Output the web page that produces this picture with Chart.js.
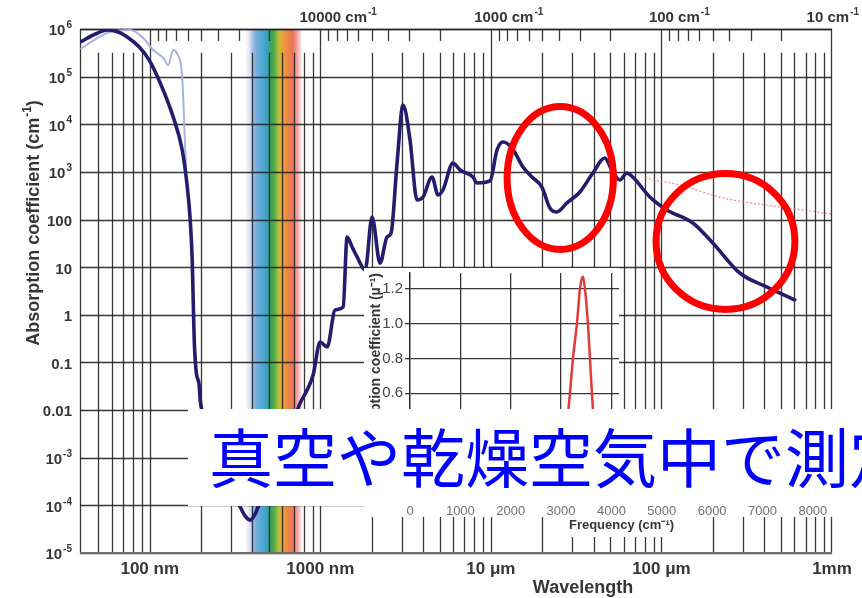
<!DOCTYPE html>
<html>
<head>
<meta charset="utf-8">
<script src="https://cdn.jsdelivr.net/npm/chart.js@4/dist/chart.umd.min.js"></script>
<style>
  html, body { margin: 0; padding: 0; background: #fff; }
  #wrap { position: relative; width: 862px; height: 598px; overflow: hidden; background: #fff; }
  #main { position: absolute; left: 0; top: 0; }
  #insetBox {
    position: absolute; left: 364px; top: 262px; width: 498px; height: 280px; background: #fff;
    clip-path: polygon(0px 6px, 255px 6px, 255px 147px, 498px 147px, 498px 255px, 326px 255px,
                       326px 275px, 191px 275px, 191px 255px, 0px 255px);
  }
  #note {
    position: absolute; left: 188px; top: 409px; width: 700px; height: 97px; background: #fff;
    overflow: hidden; white-space: nowrap;
  }
  #note span {
    position: absolute; left: 21px; top: -3px; line-height: 97px;
    font-family: "Noto Sans CJK JP", sans-serif; font-size: 64px; color: #0000ff;
  }
</style>
</head>
<body>
<div id="wrap">
  <canvas id="main" width="862" height="598"></canvas>
  <div id="insetBox"><canvas id="inset" width="498" height="280"></canvas></div>
  <div id="note"><span>真空や乾燥空気中で測定</span></div>
</div>
<script>
// Water absorption spectrum: wavelength (nm) vs absorption coefficient (cm^-1)
const darkWl = [39.2, 48, 56.4, 65.3, 73.8, 86.8, 99.3, 115.2, 137.3, 155, 166, 172.7, 177.4, 179.8, 182.3,
  187.3, 194.8, 197.6, 211, 242, 288, 339, 362, 388, 415, 432, 494, 582, 684, 762, 837, 908, 997, 1097,
  1222, 1361, 1436, 1536, 1643, 1832, 2011, 2240, 2461, 2600, 2818, 3055, 3357, 3690, 4000, 4518, 4898,
  5238, 5996, 6592, 7855, 8285, 9880, 10860, 11780, 13300, 15420, 17410, 19910, 22180, 24380, 27920,
  33270, 39630, 46580, 51200, 57000, 62700, 67900, 85500, 107600, 152800, 200000, 287800, 414000, 604000];
const darkAbs = [5.33e5, 7.85e5, 9.5e5, 8.65e5, 6.8e5, 4.19e5, 2.23e5, 7.35e4, 1.42e4, 2.88e3, 482, 98, 14.2,
  2.05, 0.296, 0.063, 0.0337, 0.0163, 6.2e-3, 1.14e-3, 2.68e-4, 9.3e-5, 6.0e-5, 4.9e-5, 6.6e-5, 9.3e-5,
  2.1e-4, 1.14e-3, 4.9e-3, 0.0141, 0.0264, 0.0546, 0.269, 0.211, 1.26, 1.46, 43, 26.5, 16.4, 8.7, 113,
  12.2, 43, 52, 1540, 2.54e4, 4680, 258, 298, 782, 328, 417, 1540, 1096, 782, 585, 645, 2884, 4250, 3177,
  1268, 782, 482, 175, 144, 223, 379, 948, 1959, 1096, 676, 948, 782, 298, 159, 84.7, 32.2, 7.55, 3.84, 2.05];

// Second (ice / vapour) curve in the far UV
const lightWl = [39.2, 49.3, 58.7, 76.9, 91.6, 104.8, 120, 128.3, 137.3, 144.9, 155, 161.5, 166];
const lightAbs = [3.8e5, 6.47e5, 8.65e5, 9.5e5, 6.47e5, 3.62e5, 2.46e5, 1.75e5, 3.62e5, 2.99e5, 9.8e4, 2884, 417];

// Dotted far-infrared trend
const pinkWl = [80000, 128000, 229000, 494000, 998000];
const pinkAbs = [745, 531, 284, 184, 131];

// Axis ticks and labels
const yTickVals = [1e6, 1e5, 1e4, 1e3, 100, 10, 1, 0.1, 0.01, 1e-3, 1e-4, 1e-5];
const yTickText = ['10{6}', '10{5}', '10{4}', '10{3}', '100', '10', '1', '0.1', '0.01', '10{-3}', '10{-4}', '10{-5}'];
const xTickVals = [100, 1000, 1e4, 1e5, 1e6];
const xTickText = ['100 nm', '1000 nm', '10 μm', '100 μm', '1mm'];
const topTickVals = [10000, 1000, 100, 10];          // wavenumber, cm^-1
const topTickText = ['10000 cm{-1}', '1000 cm{-1}', '100 cm{-1}', '10 cm{-1}'];

// Visible band colour stops (nm)
const bandWl = [362, 385, 400, 420, 460, 485, 500, 520, 545, 565, 585, 610, 650, 690, 720, 760, 790];
const bandColor = ['rgba(225,225,242,0)', '#dcdff0', '#9fbbe4', '#6aa7dc', '#3f9fd2', '#2a9cb8', '#1f9a7c',
  '#2f9c48', '#5aa836', '#a6bd2e', '#dca826', '#e8922e', '#e97a36', '#e9684a', '#ef8a88', '#f6c6c8',
  'rgba(255,235,235,0)'];

// Highlight rings: wavelength range (nm) and absorption range (cm^-1)
const ringWlMin = [12450, 93000];
const ringWlMax = [52300, 606000];
const ringAbsMin = [23.6, 1.30];
const ringAbsMax = [2.35e4, 923];

// Inset: frequency (cm^-1) vs absorption coefficient (µm^-1)
const insetFreq = [0, 300, 500, 700, 900, 1200, 1500, 1640, 1800, 2100, 2500, 2800, 3000, 3100, 3176, 3236,
  3315, 3375, 3434, 3474, 3533, 3573, 3613, 3660, 3750, 3900, 4200, 4800, 5200, 5600, 6200, 6900, 7500, 8000];
const insetAbs = [0.06, 0.12, 0.2, 0.28, 0.3, 0.22, 0.15, 0.22, 0.12, 0.06, 0.05, 0.08, 0.2, 0.38, 0.6, 0.8,
  1.0, 1.2, 1.27, 1.2, 1.0, 0.8, 0.6, 0.4, 0.2, 0.08, 0.02, 0.01, 0.015, 0.01, 0.005, 0.008, 0.004, 0.003];
const insetXTicks = [0, 1000, 2000, 3000, 4000, 5000, 6000, 7000, 8000];
const insetYTicks = [0, 0.2, 0.4, 0.6, 0.8, 1.0, 1.2];

const FONT = '"Liberation Sans", Arial, sans-serif';
const TEXT = '#363636';
const GRID = 'rgba(38,38,38,0.92)';

function pts(xs, ys) { return xs.map((x, i) => ({ x: x, y: ys[i] })); }

// text with {superscript} parts
function segs(str) {
  const out = []; const re = /\{([^}]*)\}|([^{]+)/g; let m;
  while ((m = re.exec(str))) out.push(m[1] !== undefined ? { t: m[1], sup: true } : { t: m[2], sup: false });
  return out;
}
function measureRich(ctx, str, size) {
  const bf = `bold ${size}px ${FONT}`, sf = `bold ${Math.round(size * 0.68)}px ${FONT}`;
  const s = segs(str); let w = 0;
  s.forEach(g => { ctx.font = g.sup ? sf : bf; g.w = ctx.measureText(g.t).width + (g.sup ? 1 : 0); w += g.w; });
  return { s, w, bf, sf };
}
function drawRich(ctx, str, x, y, align, size) {
  const m = measureRich(ctx, str, size);
  let cx = align === 'right' ? x - m.w : align === 'center' ? x - m.w / 2 : x;
  const base = y + size * 0.358;
  ctx.textAlign = 'left'; ctx.textBaseline = 'alphabetic'; ctx.fillStyle = TEXT;
  m.s.forEach(g => {
    ctx.font = g.sup ? m.sf : m.bf;
    ctx.fillText(g.t, cx + (g.sup ? 1 : 0), g.sup ? base - size * 0.48 : base);
    cx += g.w;
  });
}

const framePlugin = {
  id: 'frame',
  beforeDraw(chart) {
    const { ctx } = chart;
    ctx.save(); ctx.fillStyle = '#fff'; ctx.fillRect(0, 0, chart.width, chart.height); ctx.restore();
  },
  beforeDatasetsDraw(chart) {
    const { ctx, chartArea: a, scales: { x, y } } = chart;
    ctx.save();
    // visible band
    const x0 = x.getPixelForValue(bandWl[0]), x1 = x.getPixelForValue(bandWl[bandWl.length - 1]);
    const g = ctx.createLinearGradient(x0, 0, x1, 0);
    bandWl.forEach((w, i) => g.addColorStop((x.getPixelForValue(w) - x0) / (x1 - x0), bandColor[i]));
    ctx.globalAlpha = 0.92; ctx.fillStyle = g; ctx.fillRect(x0, a.top, x1 - x0, a.bottom - a.top);
    ctx.globalAlpha = 1;

    ctx.strokeStyle = GRID; ctx.lineWidth = 1.3;
    const line = (xa, ya, xb, yb) => { ctx.beginPath(); ctx.moveTo(xa, ya); ctx.lineTo(xb, yb); ctx.stroke(); };
    // horizontal decades
    yTickVals.forEach(v => { const py = Math.round(y.getPixelForValue(v)) + 0.5; line(a.left, py, a.right, py); });
    // vertical wavelength lines
    const minorTop = y.getPixelForValue(Math.pow(10, 5.5));
    for (let k = 1; k <= 5; k++) {
      for (let n = 1; n <= 9; n++) {
        const w = n * Math.pow(10, k);
        if (w < x.min || w > x.max) continue;
        const px = Math.round(x.getPixelForValue(w)) + 0.5;
        if (px - a.left < 3 || a.right - px < 1) continue;
        line(px, n === 1 ? a.top : minorTop, px, a.bottom);
      }
    }
    // short wavenumber ticks along the top
    for (let k = 1; k <= 4; k++) {
      for (let n = 2; n <= 9; n++) {
        const w = 1e7 / (n * Math.pow(10, k));
        if (w < x.min || w > x.max) continue;
        const px = Math.round(x.getPixelForValue(w)) + 0.5;
        line(px, a.top, px, a.top + 12);
      }
    }
    // frame
    line(a.left + 0.5, a.top, a.left + 0.5, a.bottom);
    line(a.left, a.top + 0.5, a.right, a.top + 0.5);
    line(a.right - 0.5, a.top, a.right - 0.5, a.bottom);
    ctx.strokeStyle = '#6e6e6e'; ctx.lineWidth = 2;
    line(a.left, a.bottom, a.right, a.bottom);

    // y labels
    yTickVals.forEach((v, i) => drawRich(ctx, yTickText[i], 72, y.getPixelForValue(v) + 1, 'right', 15));
    // bottom labels
    xTickVals.forEach((v, i) => drawRich(ctx, xTickText[i], x.getPixelForValue(v), 568, 'center', 17));
    // top wavenumber labels, number centred on its line
    topTickVals.forEach((k, i) => {
      const px = x.getPixelForValue(1e7 / k);
      const num = topTickText[i].split(' ')[0];
      ctx.font = `bold 15px ${FONT}`;
      const nw = ctx.measureText(num).width;
      const total = measureRich(ctx, topTickText[i], 15).w;
      let left = px - nw / 2;
      if (left + total > chart.width - 3) left = chart.width - 3 - total;
      drawRich(ctx, topTickText[i], left, 17, 'left', 15);
    });
    // axis titles
    drawRich(ctx, 'Wavelength', 583, 587, 'center', 18);
    ctx.save(); ctx.translate(33, 223); ctx.rotate(-Math.PI / 2);
    drawRich(ctx, 'Absorption coefficient (cm{-1})', 0, 0, 'center', 18);
    ctx.restore();
    ctx.restore();
  }
};

const ringPlugin = {
  id: 'rings',
  afterDatasetsDraw(chart) {
    const { ctx, scales: { x, y } } = chart;
    ctx.save(); ctx.strokeStyle = '#ff0000'; ctx.lineWidth = 7;
    ringWlMin.forEach((_, i) => {
      const xa = x.getPixelForValue(ringWlMin[i]), xb = x.getPixelForValue(ringWlMax[i]);
      const ya = y.getPixelForValue(ringAbsMax[i]), yb = y.getPixelForValue(ringAbsMin[i]);
      ctx.beginPath();
      ctx.ellipse((xa + xb) / 2, (ya + yb) / 2, (xb - xa) / 2, (yb - ya) / 2, 0, 0, Math.PI * 2);
      ctx.stroke();
    });
    ctx.restore();
  }
};

new Chart(document.getElementById('main'), {
  type: 'line',
  data: {
    datasets: [
      { data: pts(darkWl, darkAbs), borderColor: '#241d6d', borderWidth: 3.6, pointRadius: 0,
        cubicInterpolationMode: 'monotone', borderJoinStyle: 'round', borderCapStyle: 'round' },
      { data: pts(lightWl, lightAbs), borderColor: '#aab2e2', borderWidth: 2, pointRadius: 0,
        cubicInterpolationMode: 'monotone' },
      { data: pts(pinkWl, pinkAbs), borderColor: 'rgba(232,96,96,0.75)', borderWidth: 1.2, borderDash: [2, 2],
        pointRadius: 0, cubicInterpolationMode: 'monotone' }
    ]
  },
  options: {
    responsive: false, animation: false, devicePixelRatio: 1,
    layout: { padding: { left: 80, top: 29, right: 30, bottom: 45 } },
    plugins: { legend: { display: false }, tooltip: { enabled: false } },
    scales: {
      x: { type: 'logarithmic', min: 39, max: 1e6, display: false },
      y: { type: 'logarithmic', min: 1e-5, max: 1e6, display: false }
    }
  },
  plugins: [framePlugin, ringPlugin]
});

new Chart(document.getElementById('inset'), {
  type: 'line',
  data: {
    datasets: [{ data: pts(insetFreq, insetAbs), borderColor: '#e23a3a', borderWidth: 2.5, pointRadius: 0,
      cubicInterpolationMode: 'monotone' }]
  },
  options: {
    responsive: false, animation: false, devicePixelRatio: 1,
    layout: { padding: { left: 0, top: 10, right: 29, bottom: 0 } },
    plugins: { legend: { display: false }, tooltip: { enabled: false } },
    scales: {
      x: {
        type: 'linear', min: 0, max: 8400,
        afterFit(s) { s.height = 44; },
        afterBuildTicks(s) { s.ticks = insetXTicks.map(v => ({ value: v })); },
        ticks: { padding: 6, autoSkip: false, maxRotation: 0, color: '#707070',
          font: { family: FONT, size: 13 }, callback: v => String(v) },
        grid: { color: GRID, lineWidth: 1.3, drawTicks: false },
        border: { display: false },
        title: { display: true, text: 'Frequency (cm⁻¹)', color: TEXT,
          font: { family: FONT, size: 13, weight: 'bold' }, padding: { top: 0, bottom: 9 } }
      },
      y: {
        type: 'linear', min: 0, max: 1.29,
        afterBuildTicks(s) { s.ticks = insetYTicks.map(v => ({ value: v })); },
        afterFit(s) { s.width = 46; },
        ticks: { padding: 2, color: '#454545', font: { family: FONT, size: 15 },
          callback: v => Number(v).toFixed(1) },
        grid: { color: GRID, lineWidth: 1.3, tickLength: 5 },
        border: { display: true, color: GRID, width: 1.3 },
        title: { display: true, text: 'Absorption coefficient (µ⁻¹)', align: 'end', color: TEXT,
          font: { family: FONT, size: 14, weight: 'bold' }, padding: { top: 4, bottom: 0 } }
      }
    }
  }
});
</script>
</body>
</html>
